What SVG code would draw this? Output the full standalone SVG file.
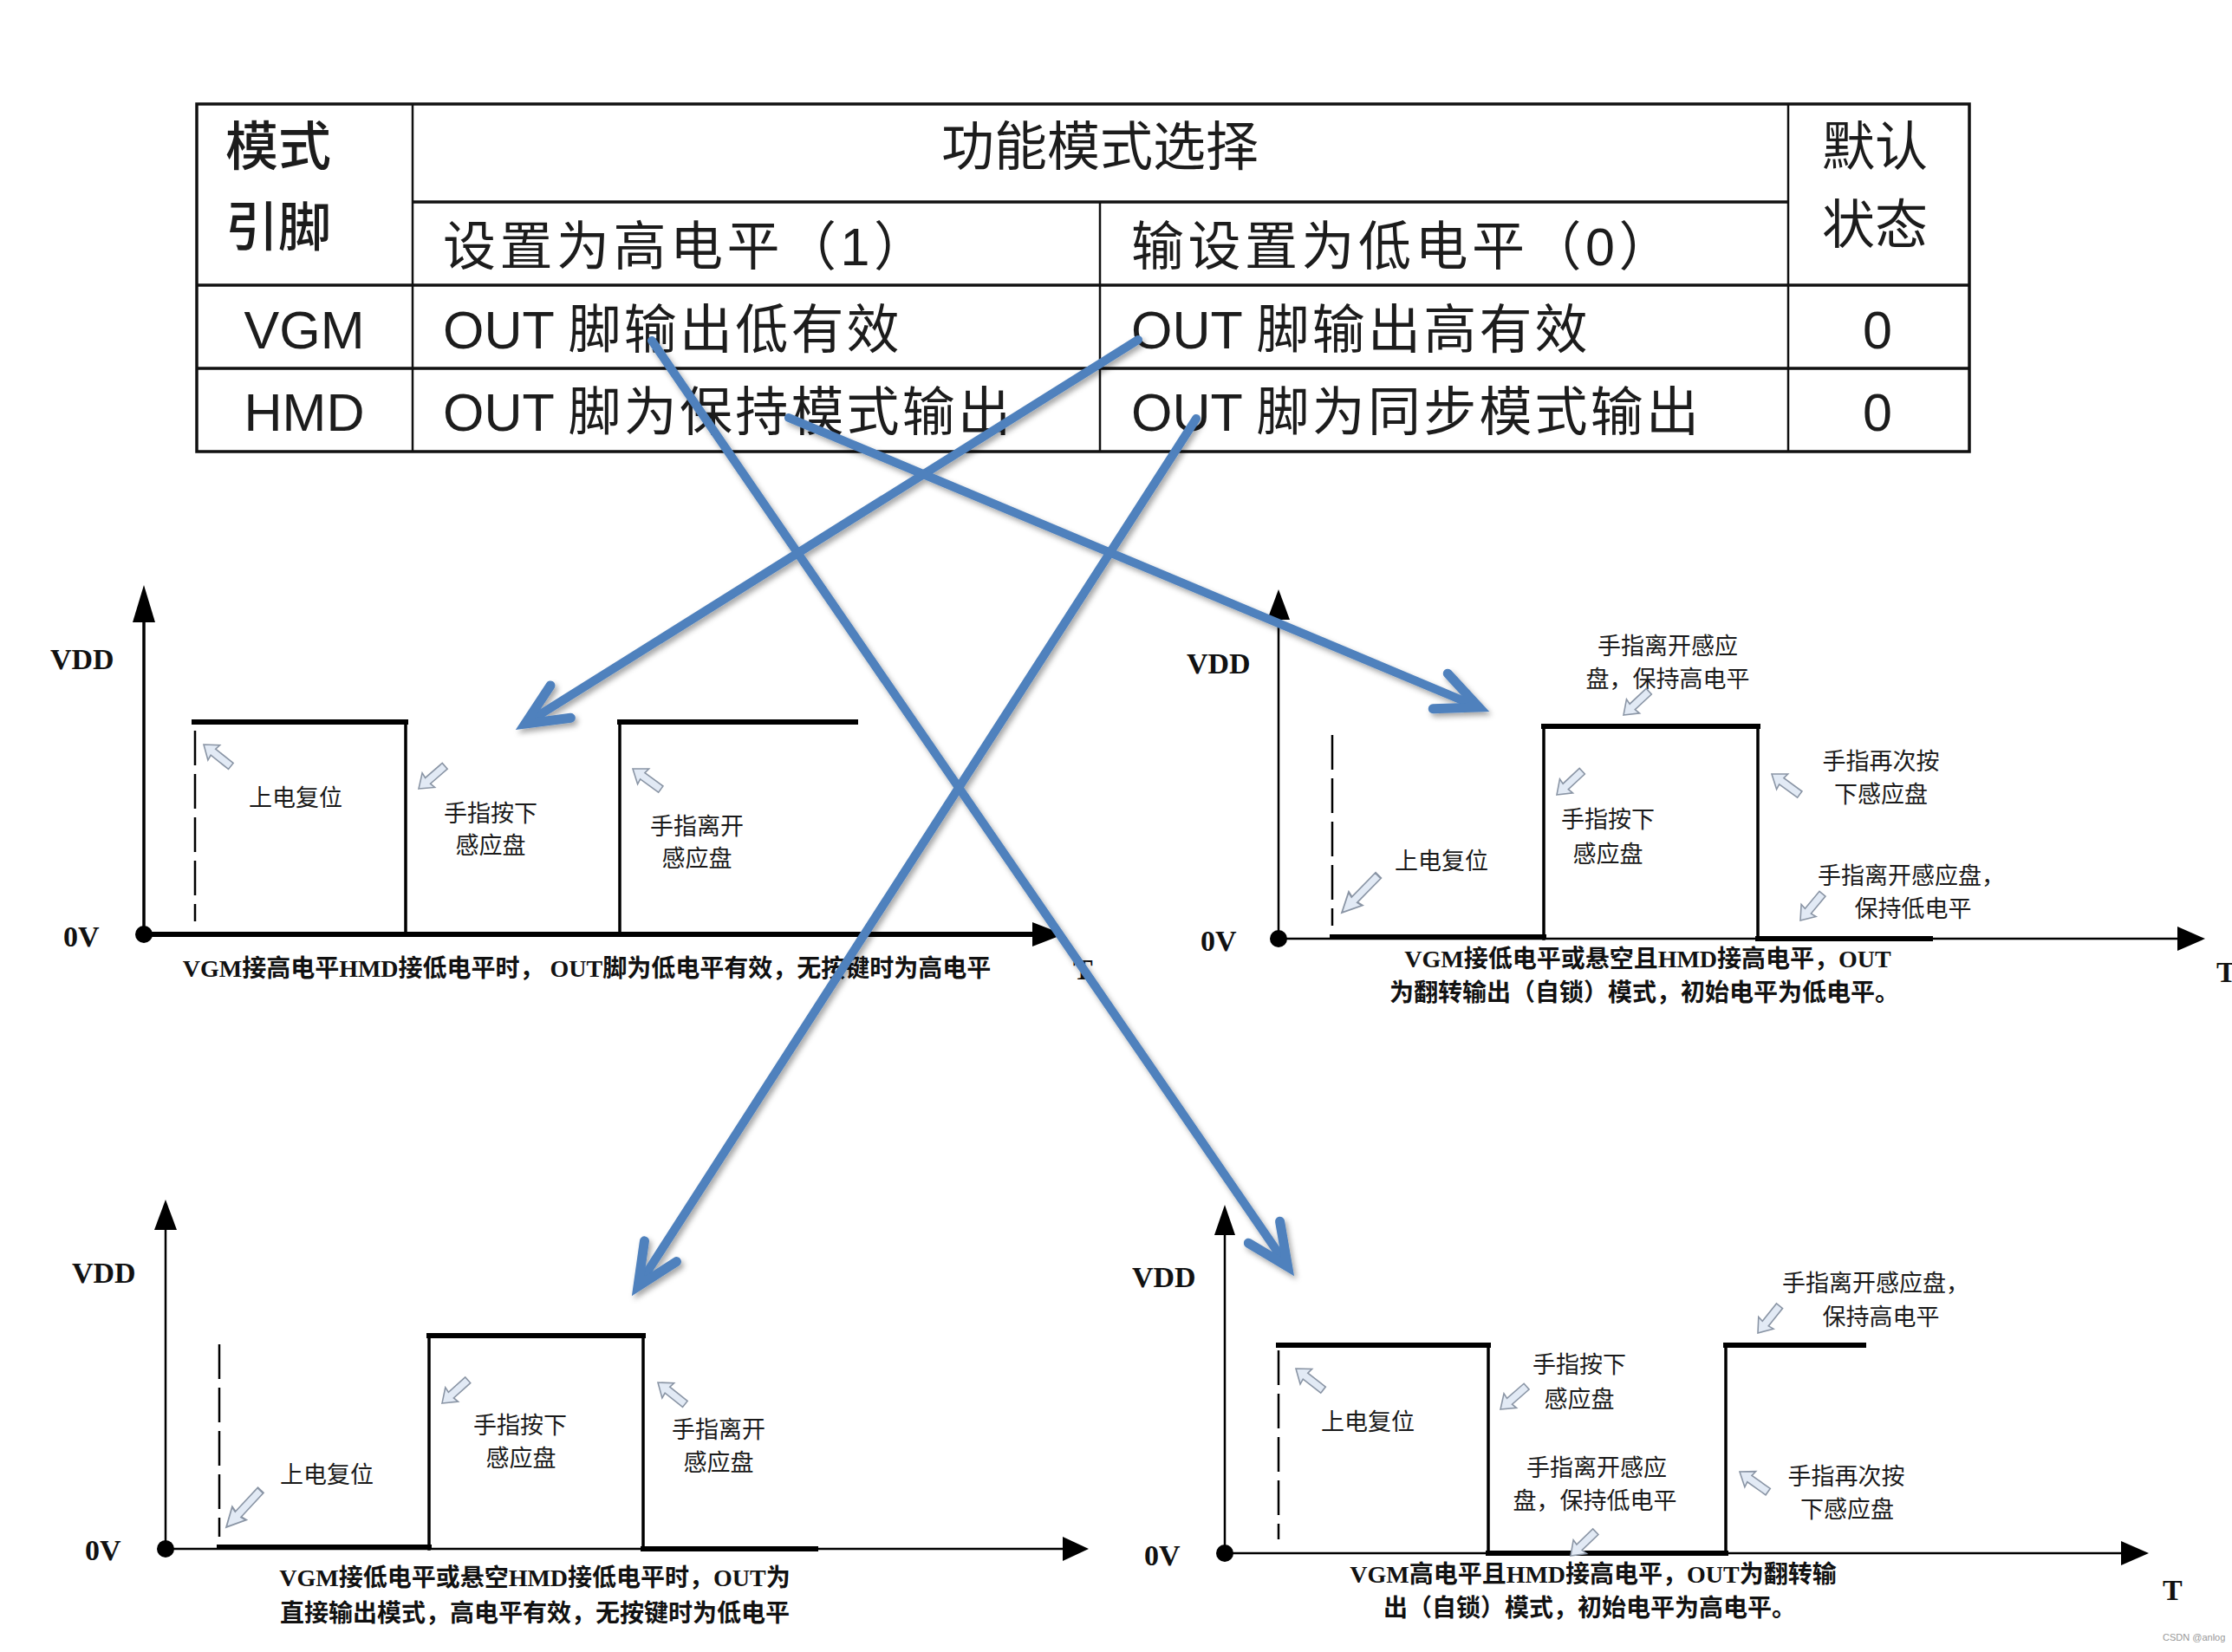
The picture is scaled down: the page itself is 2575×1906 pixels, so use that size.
<svg xmlns="http://www.w3.org/2000/svg" xmlns:xlink="http://www.w3.org/1999/xlink" width="2575" height="1906" viewBox="0 0 2575 1906">
<style>
.tb{fill:#1c1c1c;font-family:"Liberation Sans","Noto Sans CJK SC",sans-serif;font-size:61px;font-weight:400}
.tr{letter-spacing:3.2px}
.ts{letter-spacing:4.5px}
.tl{stroke:#111;fill:none}
.ax{stroke:#000;fill:none}
.wv{stroke:#000;fill:none;stroke-linecap:square}
.ds{stroke:#000;stroke-width:2.5;stroke-dasharray:40 10;fill:none}
.lb{fill:#1a1a1a;font-family:"Liberation Serif","Noto Sans CJK SC",serif;font-size:27px;text-anchor:middle}
.ls{fill:#1a1a1a;font-family:"Liberation Serif","Noto Sans CJK SC",serif;font-size:27px;text-anchor:start}
.cp{fill:#111;font-family:"Liberation Serif","Noto Sans CJK SC",serif;font-size:28px;font-weight:bold;text-anchor:middle}
.vl{fill:#111;font-family:"Liberation Serif","Noto Sans CJK SC",serif;font-size:34px;font-weight:bold}
.ha{fill:#e2eaf5;stroke:#8a95a5;stroke-width:1.6;stroke-linejoin:miter}
.bl{stroke:#4F81BD;stroke-width:10;fill:none;stroke-linecap:round}
</style>
<defs>
<path id="ha" d="M0,0 L-15,-11 L-14,-4.5 L-40,-4.5 L-40,4.5 L-14,4.5 L-15,11 Z"/>
<marker id="chev" markerUnits="userSpaceOnUse" orient="auto" refX="0" refY="0" markerWidth="120" markerHeight="120" viewBox="-60 -60 120 120" overflow="visible">
<path d="M-48,-22 L0,0 L-48,22" fill="none" stroke="#4F81BD" stroke-width="11" stroke-linecap="round" stroke-linejoin="miter" stroke-miterlimit="10"/>
</marker>
<filter id="sh" x="-10%" y="-10%" width="120%" height="120%">
<feDropShadow dx="3" dy="4" stdDeviation="3" flood-color="#000" flood-opacity="0.35"/>
</filter>
</defs>
<rect width="2575" height="1906" fill="#fff"/>

<g id="table">
<rect x="227" y="120" width="2045" height="401" class="tl" stroke-width="3.5"/>
<line x1="476" y1="120" x2="476" y2="521" class="tl" stroke-width="2.5"/>
<line x1="2063" y1="120" x2="2063" y2="521" class="tl" stroke-width="2.5"/>
<line x1="1269" y1="233" x2="1269" y2="521" class="tl" stroke-width="2.5"/>
<line x1="476" y1="233" x2="2063" y2="233" class="tl" stroke-width="3.5"/>
<line x1="227" y1="329" x2="2272" y2="329" class="tl" stroke-width="3.5"/>
<line x1="227" y1="425" x2="2272" y2="425" class="tl" stroke-width="3.5"/>
<text class="tb" x="260" y="191" style="font-weight:500">模式</text>
<text class="tb" x="260" y="284" style="font-weight:500">引脚</text>
<text class="tb" x="1269" y="191" text-anchor="middle">功能模式选择</text>
<text class="tb" x="2102" y="191">默认</text>
<text class="tb" x="2102" y="281">状态</text>
<text class="tb ts" x="511" y="306">设置为高电平（1）</text>
<text class="tb ts" x="1305" y="306">输设置为低电平（0）</text>
<text class="tb" x="351" y="402" text-anchor="middle">VGM</text>
<text class="tb" x="511" y="402">OUT <tspan class="tr">脚输出低有效</tspan></text>
<text class="tb" x="1305" y="402">OUT <tspan class="tr">脚输出高有效</tspan></text>
<text class="tb" x="2166" y="402" text-anchor="middle">0</text>
<text class="tb" x="351" y="497" text-anchor="middle">HMD</text>
<text class="tb" x="511" y="497">OUT <tspan class="tr">脚为保持模式输出</tspan></text>
<text class="tb" x="1305" y="497">OUT <tspan class="tr">脚为同步模式输出</tspan></text>
<text class="tb" x="2166" y="497" text-anchor="middle">0</text>
</g>

<g id="diagram-top-left">
<line x1="166" y1="716" x2="166" y2="1078" class="ax" stroke-width="3.5"/>
<polygon points="166,675 153,718 179,718" fill="#000"/>
<line x1="166" y1="1078" x2="1195" y2="1078" class="ax" stroke-width="6"/>
<polygon points="1227,1078 1191,1064 1191,1092" fill="#000"/>
<circle cx="166" cy="1078" r="10" fill="#000"/>
<line x1="224" y1="833" x2="468" y2="833" class="wv" stroke-width="6"/>
<line x1="468" y1="833" x2="468" y2="1078" class="wv" stroke-width="3.5"/>
<line x1="715" y1="833" x2="715" y2="1078" class="wv" stroke-width="3.5"/>
<line x1="715" y1="833" x2="987" y2="833" class="wv" stroke-width="6"/>
<line x1="225" y1="843" x2="225" y2="1063" class="ds"/>
<text class="vl" x="58" y="772">VDD</text>
<text class="vl" x="73" y="1092">0V</text>
<text class="vl" x="1238" y="1130">T</text>
<text class="lb" x="341" y="930">上电复位</text>
<text class="lb" x="566" y="948">手指按下</text>
<text class="lb" x="566" y="985">感应盘</text>
<text class="lb" x="804" y="963">手指离开</text>
<text class="lb" x="804" y="1000">感应盘</text>
<use xlink:href="#ha" class="ha" transform="translate(235,859) rotate(-141.5)"/>
<use xlink:href="#ha" class="ha" transform="translate(483,910) rotate(139)"/>
<use xlink:href="#ha" class="ha" transform="translate(730,887) rotate(-143.8)"/>
<text class="cp" x="677" y="1127">VGM接高电平HMD接低电平时， OUT脚为低电平有效，无按键时为高电平</text>
</g>

<g id="diagram-top-right">
<line x1="1475" y1="713" x2="1475" y2="1083" class="ax" stroke-width="2.5"/>
<polygon points="1475,680 1462,715 1488,715" fill="#000"/>
<line x1="1475" y1="1083" x2="2515" y2="1083" class="ax" stroke-width="2.5"/>
<polygon points="2544,1083 2512,1069 2512,1097" fill="#000"/>
<circle cx="1475" cy="1083" r="10" fill="#000"/>
<line x1="1537" y1="1081" x2="1781" y2="1081" class="wv" stroke-width="6"/>
<line x1="1781" y1="838" x2="1781" y2="1083" class="wv" stroke-width="3.5"/>
<line x1="1781" y1="838" x2="2028" y2="838" class="wv" stroke-width="6"/>
<line x1="2028" y1="838" x2="2028" y2="1083" class="wv" stroke-width="3.5"/>
<line x1="2028" y1="1083" x2="2227" y2="1083" class="wv" stroke-width="6"/>
<line x1="1537" y1="848" x2="1537" y2="1068" class="ds"/>
<text class="vl" x="1369" y="777">VDD</text>
<text class="vl" x="1385" y="1097">0V</text>
<text class="vl" x="2557" y="1133">T</text>
<text class="lb" x="1924" y="755">手指离开感应</text>
<text class="lb" x="1924" y="793">盘，保持高电平</text>
<text class="lb" x="2170" y="888">手指再次按</text>
<text class="lb" x="2170" y="926">下感应盘</text>
<text class="lb" x="1855" y="955">手指按下</text>
<text class="lb" x="1855" y="995">感应盘</text>
<text class="lb" x="1663" y="1003">上电复位</text>
<text class="ls" x="2097" y="1020">手指离开感应盘，</text>
<text class="lb" x="2207" y="1058">保持低电平</text>
<use xlink:href="#ha" class="ha" transform="translate(1873,825) rotate(137)"/>
<use xlink:href="#ha" class="ha" transform="translate(2044,893) rotate(-143.8)"/>
<use xlink:href="#ha" class="ha" transform="translate(1796,917) rotate(137)"/>
<use xlink:href="#ha" class="ha" transform="translate(1548,1053) rotate(134.4) scale(1.5,1)"/>
<use xlink:href="#ha" class="ha" transform="translate(2077,1062) rotate(129.6)"/>
<text class="cp" x="1901" y="1116">VGM接低电平或悬空且HMD接高电平，OUT</text>
<text class="cp" x="1897" y="1155">为翻转输出（自锁）模式，初始电平为低电平。</text>
</g>

<g id="diagram-bottom-left">
<line x1="191" y1="1417" x2="191" y2="1787" class="ax" stroke-width="2.5"/>
<polygon points="191,1384 178,1419 204,1419" fill="#000"/>
<line x1="191" y1="1787" x2="1228" y2="1787" class="ax" stroke-width="2.5"/>
<polygon points="1256,1787 1226,1773 1226,1801" fill="#000"/>
<circle cx="191" cy="1787" r="10" fill="#000"/>
<line x1="253" y1="1785" x2="495" y2="1785" class="wv" stroke-width="6"/>
<line x1="495" y1="1541" x2="495" y2="1787" class="wv" stroke-width="3.5"/>
<line x1="495" y1="1541" x2="742" y2="1541" class="wv" stroke-width="6"/>
<line x1="742" y1="1541" x2="742" y2="1787" class="wv" stroke-width="3.5"/>
<line x1="742" y1="1787" x2="941" y2="1787" class="wv" stroke-width="6"/>
<line x1="253" y1="1551" x2="253" y2="1773" class="ds"/>
<text class="vl" x="83" y="1480">VDD</text>
<text class="vl" x="98" y="1800">0V</text>
<text class="lb" x="600" y="1654">手指按下</text>
<text class="lb" x="601" y="1692">感应盘</text>
<text class="lb" x="829" y="1659">手指离开</text>
<text class="lb" x="829" y="1697">感应盘</text>
<text class="lb" x="377" y="1711">上电复位</text>
<use xlink:href="#ha" class="ha" transform="translate(261,1762) rotate(133) scale(1.45,1)"/>
<use xlink:href="#ha" class="ha" transform="translate(510,1619) rotate(138)"/>
<use xlink:href="#ha" class="ha" transform="translate(759,1595) rotate(-141.5)"/>
<text class="cp" x="617" y="1830">VGM接低电平或悬空HMD接低电平时，OUT为</text>
<text class="cp" x="617" y="1871">直接输出模式，高电平有效，无按键时为低电平</text>
</g>

<g id="diagram-bottom-right">
<line x1="1413" y1="1423" x2="1413" y2="1792" class="ax" stroke-width="2.5"/>
<polygon points="1413,1390 1401,1425 1425,1425" fill="#000"/>
<line x1="1413" y1="1792" x2="2450" y2="1792" class="ax" stroke-width="2.5"/>
<polygon points="2479,1792 2447,1778 2447,1806" fill="#000"/>
<circle cx="1413" cy="1792" r="10" fill="#000"/>
<line x1="1475" y1="1552" x2="1717" y2="1552" class="wv" stroke-width="6"/>
<line x1="1717" y1="1552" x2="1717" y2="1792" class="wv" stroke-width="3.5"/>
<line x1="1717" y1="1792" x2="1991" y2="1792" class="wv" stroke-width="6"/>
<line x1="1991" y1="1552" x2="1991" y2="1792" class="wv" stroke-width="3.5"/>
<line x1="1991" y1="1552" x2="2150" y2="1552" class="wv" stroke-width="6"/>
<line x1="1475" y1="1558" x2="1475" y2="1776" class="ds"/>
<text class="vl" x="1306" y="1485">VDD</text>
<text class="vl" x="1320" y="1806">0V</text>
<text class="vl" x="2495" y="1846">T</text>
<text class="ls" x="2056" y="1490">手指离开感应盘，</text>
<text class="lb" x="2170" y="1529">保持高电平</text>
<text class="lb" x="1822" y="1584">手指按下</text>
<text class="lb" x="1822" y="1624">感应盘</text>
<text class="lb" x="1578" y="1650">上电复位</text>
<text class="lb" x="1842" y="1703">手指离开感应</text>
<text class="lb" x="1840" y="1741">盘，保持低电平</text>
<text class="lb" x="2130" y="1713">手指再次按</text>
<text class="lb" x="2131" y="1751">下感应盘</text>
<use xlink:href="#ha" class="ha" transform="translate(2028,1538) rotate(128.7)"/>
<use xlink:href="#ha" class="ha" transform="translate(1731,1626) rotate(138.8)"/>
<use xlink:href="#ha" class="ha" transform="translate(1495,1579) rotate(-142)"/>
<use xlink:href="#ha" class="ha" transform="translate(1812,1795) rotate(136)"/>
<use xlink:href="#ha" class="ha" transform="translate(2007,1698) rotate(-144.7)"/>
<text class="cp" x="1838" y="1826">VGM高电平且HMD接高电平，OUT为翻转输</text>
<text class="cp" x="1834" y="1865">出（自锁）模式，初始电平为高电平。</text>
</g>

<g id="connectors" filter="url(#sh)">
<line class="bl" x1="752" y1="393" x2="1485.6" y2="1461.3" marker-end="url(#chev)"/>
<line class="bl" x1="1313" y1="392" x2="606" y2="835.1" marker-end="url(#chev)"/>
<line class="bl" x1="910" y1="482" x2="1706" y2="816" marker-end="url(#chev)"/>
<line class="bl" x1="1380" y1="483" x2="736" y2="1484.1" marker-end="url(#chev)"/>
</g>

<text x="2495" y="1893" font-family="Liberation Sans, sans-serif" font-size="11" fill="#999">CSDN @anlog</text>
</svg>
